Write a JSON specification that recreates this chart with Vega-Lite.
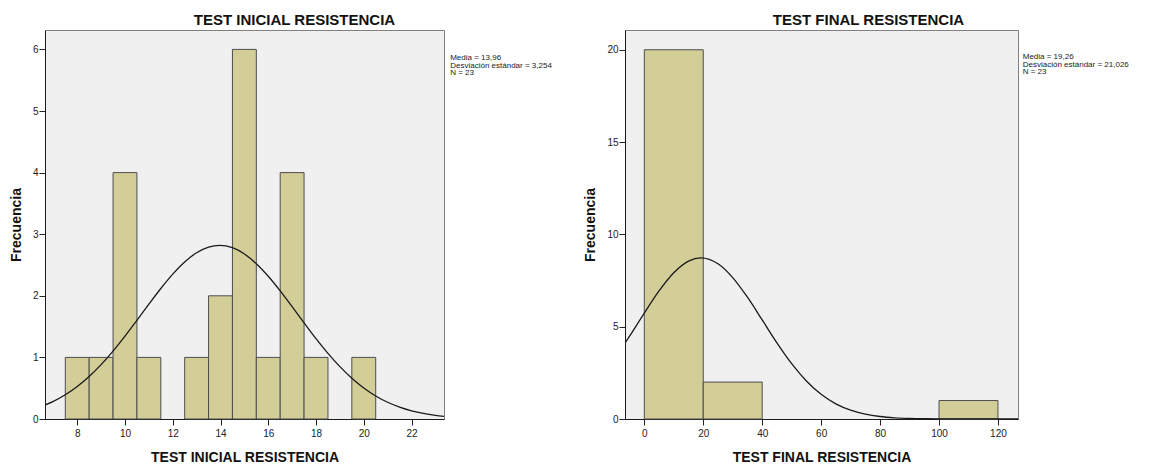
{
  "$schema": "https://vega.github.io/schema/vega-lite/v6.json",
  "background": "white",
  "padding": {"left": 8, "top": 12, "right": 0, "bottom": 0},
  "config": {
    "font": "Liberation Sans",
    "view": {"fill": "#f0f0f0", "stroke": "#808080", "strokeWidth": 1},
    "axis": {
      "grid": false,
      "labelFont": "Liberation Sans",
      "labelFontSize": 10,
      "labelColor": "#222222",
      "tickColor": "#222222",
      "tickSize": 6,
      "domainColor": "#1a1a1a",
      "titleFont": "Liberation Sans",
      "titleFontSize": 14,
      "titleFontWeight": "bold",
      "titleColor": "#111111"
    },
    "axisX": {"labelPadding": 3, "titlePadding": 12},
    "axisY": {"labelPadding": 1, "titlePadding": 9},
    "title": {"font": "Liberation Sans", "fontSize": 15, "fontWeight": "bold", "color": "#111111"},
    "concat": {"spacing": 30}
  },
  "datasets": {
    "inicial_barras": [
      {"desde": 7.5, "hasta": 8.5, "frecuencia": 1},
      {"desde": 8.5, "hasta": 9.5, "frecuencia": 1},
      {"desde": 9.5, "hasta": 10.5, "frecuencia": 4},
      {"desde": 10.5, "hasta": 11.5, "frecuencia": 1},
      {"desde": 12.5, "hasta": 13.5, "frecuencia": 1},
      {"desde": 13.5, "hasta": 14.5, "frecuencia": 2},
      {"desde": 14.5, "hasta": 15.5, "frecuencia": 6},
      {"desde": 15.5, "hasta": 16.5, "frecuencia": 1},
      {"desde": 16.5, "hasta": 17.5, "frecuencia": 4},
      {"desde": 17.5, "hasta": 18.5, "frecuencia": 1},
      {"desde": 19.5, "hasta": 20.5, "frecuencia": 1}
    ],
    "inicial_curva": [
      {"valor": 6.6, "curva": 0.2184}, {"valor": 7, "curva": 0.2863}, {"valor": 7.5, "curva": 0.3931},
      {"valor": 8, "curva": 0.5269}, {"valor": 8.5, "curva": 0.69}, {"valor": 9, "curva": 0.8825},
      {"valor": 9.5, "curva": 1.1023}, {"valor": 10, "curva": 1.3447}, {"valor": 10.5, "curva": 1.6022},
      {"valor": 11, "curva": 1.8645}, {"valor": 11.5, "curva": 2.1188}, {"valor": 12, "curva": 2.352},
      {"valor": 12.5, "curva": 2.5497}, {"valor": 13, "curva": 2.6998}, {"valor": 13.5, "curva": 2.7918},
      {"valor": 13.96, "curva": 2.8198}, {"valor": 14.5, "curva": 2.7813}, {"valor": 15, "curva": 2.6794},
      {"valor": 15.5, "curva": 2.521}, {"valor": 16, "curva": 2.3167}, {"valor": 16.5, "curva": 2.0792},
      {"valor": 17, "curva": 1.8226}, {"valor": 17.5, "curva": 1.5603}, {"valor": 18, "curva": 1.3045},
      {"valor": 18.5, "curva": 1.0654}, {"valor": 19, "curva": 0.8497}, {"valor": 19.5, "curva": 0.6619},
      {"valor": 20, "curva": 0.5036}, {"valor": 20.5, "curva": 0.3742}, {"valor": 21, "curva": 0.2715},
      {"valor": 21.5, "curva": 0.1925}, {"valor": 22, "curva": 0.1332}, {"valor": 22.5, "curva": 0.0901},
      {"valor": 23, "curva": 0.0595}, {"valor": 23.4, "curva": 0.042}
    ],
    "final_barras": [
      {"desde": 0, "hasta": 20, "frecuencia": 20},
      {"desde": 20, "hasta": 40, "frecuencia": 2},
      {"desde": 100, "hasta": 120, "frecuencia": 1}
    ],
    "final_curva": [
      {"valor": -7, "curva": 4.0011}, {"valor": -5, "curva": 4.4857}, {"valor": 0, "curva": 5.7374},
      {"valor": 5, "curva": 6.9347}, {"valor": 10, "curva": 7.9212}, {"valor": 15, "curva": 8.5505},
      {"valor": 19.26, "curva": 8.7279}, {"valor": 25, "curva": 8.4086}, {"valor": 30, "curva": 7.6604},
      {"valor": 35, "curva": 6.5951}, {"valor": 40, "curva": 5.3658}, {"valor": 45, "curva": 4.1256},
      {"valor": 50, "curva": 2.9976}, {"valor": 55, "curva": 2.0583}, {"valor": 60, "curva": 1.3356},
      {"valor": 65, "curva": 0.819}, {"valor": 70, "curva": 0.4746}, {"valor": 75, "curva": 0.2599},
      {"valor": 80, "curva": 0.1345}, {"valor": 85, "curva": 0.0658}, {"valor": 90, "curva": 0.0304},
      {"valor": 95, "curva": 0.0133}, {"valor": 100, "curva": 0.0055}, {"valor": 105, "curva": 0.0021},
      {"valor": 110, "curva": 0.0008}, {"valor": 115, "curva": 0.0003}, {"valor": 120, "curva": 0.0001},
      {"valor": 127, "curva": 0}
    ],
    "inicial_resumen": [
      {"texto": ["Media = 13,96", "Desviación estándar = 3,254", "N = 23"]}
    ],
    "final_resumen": [
      {"texto": ["Media = 19,26", "Desviación estándar = 21,026", "N = 23"]}
    ]
  },
  "hconcat": [
    {
      "title": {"text": "TEST INICIAL RESISTENCIA", "anchor": "middle", "dx": 50, "offset": 2},
      "width": 399,
      "height": 389,
      "layer": [
        {
          "data": {"name": "inicial_barras"},
          "mark": {"type": "rect", "fill": "#d3ce98", "stroke": "#4d4d4d", "strokeWidth": 1},
          "encoding": {
            "x": {
              "field": "desde", "type": "quantitative",
              "scale": {"domain": [6.65, 23.36], "nice": false, "zero": false},
              "axis": {"values": [8, 10, 12, 14, 16, 18, 20, 22], "format": "d", "title": "TEST INICIAL RESISTENCIA"}
            },
            "x2": {"field": "hasta"},
            "y": {
              "field": "frecuencia", "type": "quantitative",
              "scale": {"domain": [0, 6.315], "nice": false},
              "axis": {"values": [0, 1, 2, 3, 4, 5, 6], "format": "d", "title": "Frecuencia"}
            }
          }
        },
        {
          "data": {"name": "inicial_curva"},
          "mark": {"type": "line", "color": "#1a1a1a", "strokeWidth": 1.3, "interpolate": "monotone", "clip": true},
          "encoding": {
            "x": {"field": "valor", "type": "quantitative"},
            "y": {"field": "curva", "type": "quantitative"}
          }
        },
        {
          "data": {"name": "inicial_resumen"},
          "mark": {"type": "text", "align": "left", "baseline": "top", "fontSize": 8, "lineHeight": 7.5, "color": "#1a1a1a"},
          "encoding": {
            "x": {"datum": 23.62, "type": "quantitative"},
            "y": {"datum": 5.92, "type": "quantitative"},
            "text": {"field": "texto"}
          }
        }
      ]
    },
    {
      "title": {"text": "TEST FINAL RESISTENCIA", "anchor": "middle", "dx": 47, "offset": 2},
      "width": 393,
      "height": 389,
      "layer": [
        {
          "data": {"name": "final_barras"},
          "mark": {"type": "rect", "fill": "#d3ce98", "stroke": "#4d4d4d", "strokeWidth": 1},
          "encoding": {
            "x": {
              "field": "desde", "type": "quantitative",
              "scale": {"domain": [-6.55, 126.8], "nice": false, "zero": false},
              "axis": {"values": [0, 20, 40, 60, 80, 100, 120], "format": "d", "title": "TEST FINAL RESISTENCIA"}
            },
            "x2": {"field": "hasta"},
            "y": {
              "field": "frecuencia", "type": "quantitative",
              "scale": {"domain": [0, 21.07], "nice": false},
              "axis": {"values": [0, 5, 10, 15, 20], "format": "d", "title": "Frecuencia"}
            }
          }
        },
        {
          "data": {"name": "final_curva"},
          "mark": {"type": "line", "color": "#1a1a1a", "strokeWidth": 1.3, "interpolate": "monotone", "clip": true},
          "encoding": {
            "x": {"field": "valor", "type": "quantitative"},
            "y": {"field": "curva", "type": "quantitative"}
          }
        },
        {
          "data": {"name": "final_resumen"},
          "mark": {"type": "text", "align": "left", "baseline": "top", "fontSize": 8, "lineHeight": 7.5, "color": "#1a1a1a"},
          "encoding": {
            "x": {"datum": 128.4, "type": "quantitative"},
            "y": {"datum": 19.8, "type": "quantitative"},
            "text": {"field": "texto"}
          }
        }
      ]
    }
  ]
}
